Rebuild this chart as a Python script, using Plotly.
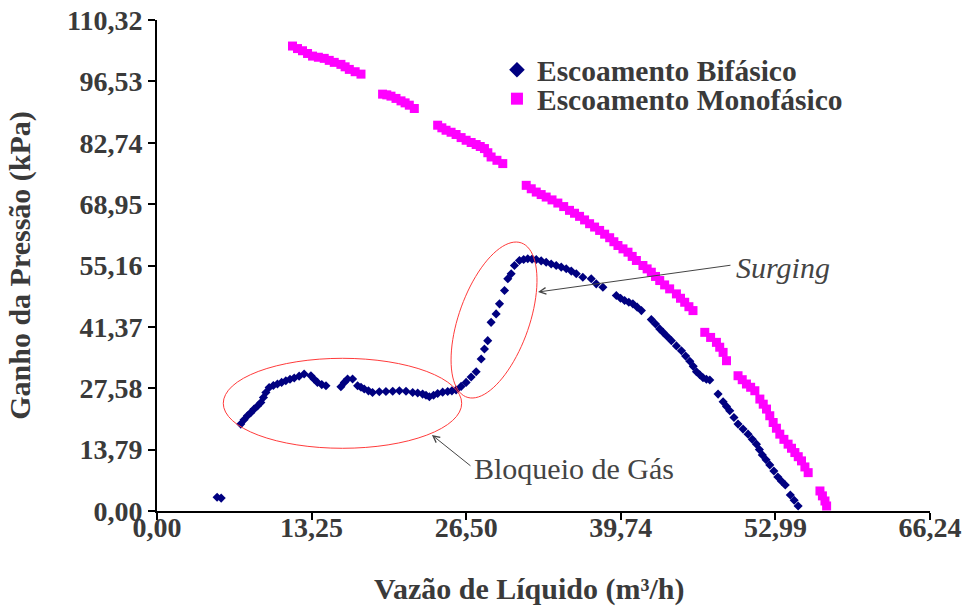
import numpy as np
import plotly.graph_objects as go

# Escoamento Bifásico: vazão de líquido (m³/h) x ganho de pressão (kPa)
bif_vazao = [
    5.15, 5.50,
    7.18, 7.46, 7.75, 8.03, 8.32, 8.61, 8.90, 9.12, 9.33, 9.61, 9.97, 10.32, 10.68, 11.04,
    11.40, 11.76, 12.18, 12.61, 13.19, 13.47, 13.75, 14.12, 14.48,
    15.76, 16.05, 16.33, 16.76, 17.19, 17.48, 17.76, 18.12, 18.47, 19.05, 19.62, 20.20,
    20.77, 21.34, 21.91, 22.34, 22.76, 23.05, 23.34, 23.70, 24.05, 24.48, 24.91, 25.27,
    25.63, 26.06, 26.49, 26.92, 27.35, 27.78, 28.06, 28.34, 28.63, 29.06, 29.35, 29.78,
    30.06, 30.35, 30.63, 31.06, 31.42, 31.77, 32.14, 32.50, 32.92, 33.35, 33.78, 34.21,
    34.64, 35.07, 35.50, 35.93, 36.49, 37.21, 37.64, 38.21,
    39.36, 39.72, 40.07, 40.43, 40.78, 41.15, 41.51,
    42.36, 42.72, 43.08, 43.37, 43.72, 44.08, 44.51, 44.94, 45.30, 45.66, 45.95, 46.23,
    46.51, 46.79, 47.08, 47.37,
    48.08, 48.51, 48.80, 49.08, 49.44, 49.79, 50.22, 50.65, 51.01, 51.37, 51.62, 51.87,
    52.19, 52.51, 52.86, 53.20, 53.52, 53.84,
    54.27, 54.60, 54.94,
]
bif_ganho = [
    3.10, 2.90,
    19.52, 20.50, 21.39, 22.10, 22.90, 23.60, 24.38, 25.50, 26.63, 27.76, 28.20, 28.53, 28.90, 29.27,
    29.60, 29.88, 30.30, 30.78, 30.39, 29.60, 28.89, 28.40, 28.14,
    27.92, 28.90, 29.65, 29.65, 28.14, 27.80, 27.40, 27.00, 26.63, 26.80, 26.86, 26.90,
    27.02, 26.90, 26.63, 26.50, 26.27, 26.00, 25.67, 26.00, 26.41, 26.70, 26.86, 27.00,
    27.17, 28.00, 28.89, 30.10, 31.29, 34.15, 36.41, 38.27, 42.39, 44.29, 46.54, 49.53,
    52.17, 53.29, 55.16, 56.29, 56.50, 56.67, 56.60, 56.51, 56.20, 55.90, 55.50, 55.16,
    54.80, 54.42, 53.90, 53.29, 52.53, 52.17, 51.04, 50.27,
    48.41, 47.80, 47.28, 46.90, 46.54, 45.80, 45.03,
    43.00, 42.00, 40.91, 40.14, 39.20, 38.27, 37.10, 36.02, 34.80, 33.66, 32.50, 31.29,
    30.60, 29.94, 29.60, 29.43,
    26.27, 24.54, 23.50, 22.51, 21.00, 19.52, 18.40, 17.27, 16.10, 15.02, 13.80, 12.61,
    11.50, 10.36, 9.00, 7.65, 6.70, 5.85,
    3.60, 2.40, 1.13,
]

# Escoamento Monofásico
mono_vazao = [
    11.61, 12.04, 12.47, 12.90, 13.33, 13.83, 14.33, 14.76, 15.19, 15.76, 16.12, 16.48, 16.98, 17.48,
    19.33, 19.69, 20.05, 20.48, 20.91, 21.26, 21.62, 22.05,
    24.05, 24.41, 24.77, 25.20, 25.63, 26.06, 26.49, 26.92, 27.35, 27.70, 28.06, 28.35, 28.63,
    29.13, 29.63,
    31.64, 32.07, 32.50, 32.92, 33.35, 33.85, 34.35, 34.85, 35.35, 35.78, 36.21, 36.64, 37.07,
    37.50, 37.93, 38.36, 38.79, 39.15, 39.50, 39.93, 40.36, 40.72, 41.08, 41.64, 42.00, 42.36,
    42.72, 43.08, 43.50, 43.93, 44.51, 44.86, 45.22, 45.58, 45.93,
    46.94, 47.44, 47.94, 48.22, 48.51, 48.80,
    49.79, 50.15, 50.51, 50.87, 51.23, 51.66, 51.95, 52.23, 52.51, 52.80, 53.08, 53.37, 53.72,
    54.08, 54.37, 54.66, 54.95, 55.23, 55.52, 55.80,
    56.81, 57.02, 57.24, 57.38,
]
mono_ganho = [
    104.47, 103.90, 103.41, 102.80, 102.21, 101.95, 101.70, 101.25, 100.80, 100.35, 99.80, 99.22, 98.70, 98.16,
    93.66, 93.50, 93.21, 92.70, 92.15, 91.70, 91.18, 90.44,
    86.68, 86.10, 85.55, 85.10, 84.59, 83.90, 83.30, 82.80, 82.34, 81.90, 81.43, 80.50, 79.54,
    78.80, 78.06,
    73.17, 72.40, 71.66, 71.10, 70.54, 69.90, 69.19, 68.40, 67.55, 66.90, 66.20, 65.40, 64.55,
    63.80, 63.04, 62.20, 61.40, 60.50, 59.66, 58.90, 58.15, 57.20, 56.29, 55.16, 54.40, 53.65,
    52.70, 51.78, 50.80, 49.91, 48.78, 47.80, 46.90, 45.90, 45.03,
    40.14, 39.00, 37.89, 36.80, 35.64, 33.77,
    30.39, 29.50, 28.53, 27.80, 27.02, 25.15, 24.00, 22.90, 21.40, 19.88, 18.60, 17.27, 16.10,
    15.02, 14.10, 13.13, 12.20, 11.26, 9.90, 8.62,
    4.50, 3.40, 2.25, 1.13,
]

x_tickvals = [0, 13.248, 26.496, 39.744, 52.992, 66.24]
x_ticktext = ["0,00", "13,25", "26,50", "39,74", "52,99", "66,24"]
y_tickvals = [0, 13.79, 27.58, 41.37, 55.16, 68.95, 82.74, 96.53, 110.32]
y_ticktext = ["0,00", "13,79", "27,58", "41,37", "55,16", "68,95", "82,74", "96,53", "110,32"]

SERIF = "Liberation Serif, Times New Roman, serif"
TXT = "#3a3a3a"
NOTE = "#444444"
W, H = 963, 611
M = dict(l=157, r=33, t=20, b=100)
X_RANGE = [0, 66.24]
Y_RANGE = [0, 110.32]
pxx = (W - M["l"] - M["r"]) / (X_RANGE[1] - X_RANGE[0])   # pixels per m³/h
pxy = (H - M["t"] - M["b"]) / (Y_RANGE[1] - Y_RANGE[0])   # pixels per kPa

fig = go.Figure()
fig.add_trace(go.Scatter(
    x=bif_vazao, y=bif_ganho, mode="markers", name="<b>Escoamento Bifásico</b>",
    legend="legend",
    marker=dict(symbol="diamond", size=7, color="#000080", line=dict(width=0)),
))
fig.add_trace(go.Scatter(
    x=mono_vazao, y=mono_ganho, mode="markers", name="<b>Escoamento Monofásico</b>",
    legend="legend2",
    marker=dict(symbol="square", size=9, color="#ff00ff", line=dict(width=0)),
))

# "Bloqueio de Gás" region
fig.add_shape(type="circle", xref="x", yref="y", x0=5.68, x1=26.11, y0=14.09, y1=34.31,
              line=dict(color="#ff3b3b", width=1))

# "Surging" region: tilted ellipse, axes given in screen pixels
cx, cy = 28.88, 42.91
a_px, b_px, ang = 81.8, 35.2, np.deg2rad(70.5)
t = np.linspace(0, 2 * np.pi, 90)
ex = a_px * np.cos(t) * np.cos(ang) - b_px * np.sin(t) * np.sin(ang)
ey = a_px * np.cos(t) * np.sin(ang) + b_px * np.sin(t) * np.cos(ang)
ell_x = cx + ex / pxx
ell_y = cy + ey / pxy
path = "M " + " L ".join(f"{u:.3f},{v:.3f}" for u, v in zip(ell_x, ell_y)) + " Z"
fig.add_shape(type="path", xref="x", yref="y", path=path, line=dict(color="#ff3b3b", width=1))

# pointer arrows
for hx, hy, tx, ty in [(32.65, 49.2, 49.27, 55.27), (23.56, 17.08, 26.99, 9.89)]:
    fig.add_annotation(x=hx, y=hy, ax=tx, ay=ty, xref="x", yref="y", axref="x", ayref="y",
                       text="", showarrow=True, arrowhead=5, arrowsize=1.3, arrowwidth=1,
                       arrowcolor=NOTE)

fig.add_annotation(x=53.64, y=54.6, xref="x", yref="y", text="<i>Surging</i>", showarrow=False,
                   font=dict(family=SERIF, size=30, color=NOTE))
fig.add_annotation(x=35.73, y=9.44, xref="x", yref="y", text="Bloqueio de Gás", showarrow=False,
                   font=dict(family=SERIF, size=30, color=NOTE))

# x-axis title, set slightly left of the plot centre and kept inside the page
fig.add_annotation(x=0.481, y=-0.198, xref="paper", yref="paper", showarrow=False,
                   text="<b>Vazão de Líquido (m³/h)</b>", yanchor="bottom",
                   font=dict(family=SERIF, size=30, color=TXT))

axis_common = dict(showline=True, linecolor="black", linewidth=2, ticks="outside", ticklen=7,
                   tickwidth=2, tickcolor="black", showgrid=False, zeroline=False,
                   automargin=False,
                   tickfont=dict(family=SERIF, size=28, color=TXT, weight="bold"))

legend_common = dict(xanchor="left", yanchor="middle", bgcolor="rgba(0,0,0,0)",
                     font=dict(family=SERIF, size=29.5, color=TXT), itemsizing="constant")

fig.update_layout(
    width=W, height=H, margin=M,
    paper_bgcolor="white", plot_bgcolor="white",
    xaxis=dict(range=X_RANGE, tickvals=x_tickvals, ticktext=x_ticktext, ticklabelstandoff=-17,
               **axis_common),
    yaxis=dict(range=Y_RANGE, tickvals=y_tickvals, ticktext=y_ticktext,
               title=dict(text="<b>Ganho da Pressão (kPa)</b>", standoff=27,
                          font=dict(family=SERIF, size=30, color=TXT)),
               **axis_common),
    legend=dict(x=0.4398, y=0.8981, **legend_common),
    legend2=dict(x=0.4398, y=0.8391, **legend_common),
    showlegend=True,
)

fig.write_html("out.html")
